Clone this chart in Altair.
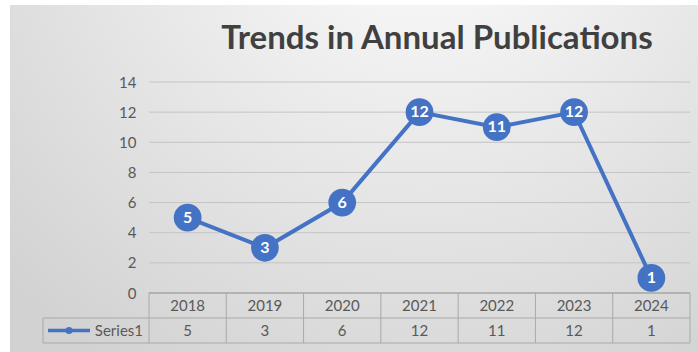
import altair as alt
import pandas as pd

# ---- data ----
years = ["2018", "2019", "2020", "2021", "2022", "2023", "2024"]
values = [5, 3, 6, 12, 11, 12, 1]
y_ticks = [0, 2, 4, 6, 8, 10, 12, 14]
series_name = "Series1"
title_text = "Trends in Annual Publications"

df = pd.DataFrame({"year": years, "value": values})
grid_df = pd.DataFrame({"value": [t for t in y_ticks if t > 0]})

# ---- layout / style ----
W, H = 541, 211
BLUE = "#4472C4"
TXT = "#595959"
FONT = "Lato"
ROW1 = H + 12.5
ROW2 = H + 37.5
TBL_BOT = H + 50
ROW_SPLIT = H + 25

xs = alt.Scale(type="band", domain=years, paddingInner=0, paddingOuter=0)
ys = alt.Scale(domain=[0, 14], nice=False, zero=True)
x_enc = alt.X("year:N", scale=xs, axis=None, sort=years)
y_enc = alt.Y("value:Q", scale=ys, title=None,
              axis=alt.Axis(values=y_ticks, grid=False, domain=False, ticks=False,
                            labelPadding=13, labelFontSize=15, labelColor=TXT,
                            labelFont=FONT, zindex=1))

bg_fill = {
    "gradient": "radial",
    "x1": 0.6, "y1": 0.05, "r1": 0.0,
    "x2": 0.6, "y2": 0.05, "r2": 0.85,
    "stops": [{"offset": 0, "color": "#ffffff"},
              {"offset": 1, "color": "#d2d2d2"}],
}

one = pd.DataFrame({"k": [0]})

bg = alt.Chart(one).mark_rect(fill=bg_fill).encode(
    x=alt.value(-139), x2=alt.value(549), y=alt.value(-77), y2=alt.value(270))

grid = alt.Chart(grid_df).mark_rule(color="#c4c4c4", strokeWidth=1).encode(
    y=y_enc, x=alt.value(0), x2=alt.value(W))

# table lines
axis_line = alt.Chart(one).mark_rule(color="#8a8a8a", strokeWidth=1.2).encode(
    x=alt.value(0), x2=alt.value(W), y=alt.value(H))
h_split = alt.Chart(one).mark_rule(color="#a9a9a9", strokeWidth=1).encode(
    x=alt.value(-106), x2=alt.value(W), y=alt.value(ROW_SPLIT))
h_bot = alt.Chart(one).mark_rule(color="#a9a9a9", strokeWidth=1).encode(
    x=alt.value(-106), x2=alt.value(W), y=alt.value(TBL_BOT))
v_left = alt.Chart(one).mark_rule(color="#a9a9a9", strokeWidth=1).encode(
    x=alt.value(-106), y=alt.value(ROW_SPLIT), y2=alt.value(TBL_BOT))
v_lines = alt.Chart(df).mark_rule(color="#a9a9a9", strokeWidth=1).encode(
    x=alt.X("year:N", scale=xs, axis=None, sort=years, bandPosition=0),
    y=alt.value(H), y2=alt.value(TBL_BOT))
v_right = alt.Chart(one).mark_rule(color="#a9a9a9", strokeWidth=1).encode(
    x=alt.value(W), y=alt.value(H), y2=alt.value(TBL_BOT))

line = alt.Chart(df).mark_line(color=BLUE, strokeWidth=4).encode(x=x_enc, y=y_enc)
dots = alt.Chart(df).mark_circle(color=BLUE, opacity=1, size=770).encode(x=x_enc, y=y_enc)
labels = alt.Chart(df).mark_text(color="white", fontWeight="bold", fontSize=16,
                                 font=FONT, baseline="middle").encode(
    x=x_enc, y=y_enc, text="value:Q")

year_txt = alt.Chart(df).mark_text(color=TXT, fontSize=15, font=FONT,
                                   baseline="middle").encode(
    x=x_enc, y=alt.value(ROW1), text="year:N")
val_txt = alt.Chart(df).mark_text(color=TXT, fontSize=15, font=FONT,
                                  baseline="middle").encode(
    x=x_enc, y=alt.value(ROW2), text="value:Q")

leg_line = alt.Chart(one).mark_rule(color=BLUE, strokeWidth=3.5).encode(
    x=alt.value(-101), x2=alt.value(-59), y=alt.value(ROW2))
leg_dot = alt.Chart(one).mark_circle(color=BLUE, opacity=1, size=50).encode(
    x=alt.value(-80), y=alt.value(ROW2))
leg_txt = alt.Chart(pd.DataFrame({"s": [series_name]})).mark_text(
    color=TXT, fontSize=15, font=FONT, align="right", baseline="middle").encode(
    x=alt.value(-6), y=alt.value(ROW2), text="s:N")

title = alt.Chart(pd.DataFrame({"t": [title_text]})).mark_text(
    color="#404040", fontSize=33, fontWeight="bold", font=FONT,
    baseline="middle", align="center").encode(
    x=alt.value(288), y=alt.value(-43), text="t:N")

chart = alt.layer(
    bg, grid, axis_line, h_split, h_bot, v_left, v_lines, v_right,
    line, dots, labels, year_txt, val_txt, leg_line, leg_dot, leg_txt, title
).properties(
    width=W, height=H,
    padding={"left": 149, "top": 82, "right": 8, "bottom": 59},
    autosize=alt.AutoSizeParams(type="none"),
    background="white",
).configure_view(stroke=None)

chart.save("out.html", embed_options={"renderer": "svg", "actions": False})
